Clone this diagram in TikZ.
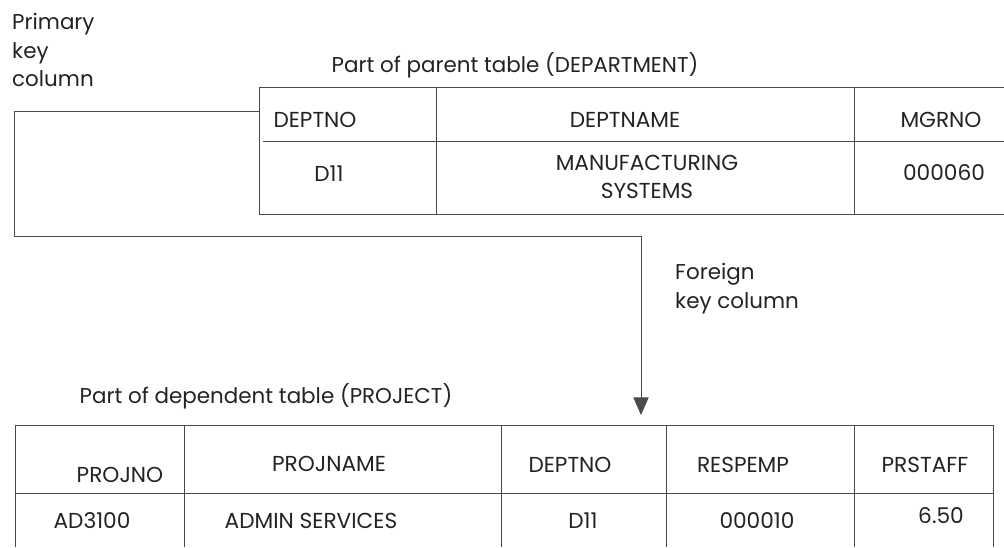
\documentclass[tikz,border=0pt]{standalone}
\usepackage{fontspec}
\setmainfont{Poppins}
\usepackage{tikz}
\usetikzlibrary{arrows.meta}
\definecolor{TxtCol}{RGB}{35,35,35}
\definecolor{LnCol} {RGB}{75,75,75}
\tikzset{
  nd_cell/.style={
    anchor=base, inner sep=0pt, text=TxtCol,
    font=\fontsize{18.5}{24}\selectfont},
  nd_lbl/.style={
    inner sep=0pt, text=TxtCol, align=left,
    font=\fontsize{18.3}{24.3}\selectfont},
  ln_rule/.style={draw=LnCol, line width=0.8pt},
  arr/.style={-{Triangle[length=15pt,width=13pt]}, draw=LnCol, line width=0.8pt},
}

\begin{document}
\begin{tikzpicture}[x=0.03cm,y=-0.03cm]

\useasboundingbox (0,0) rectangle (1004,547);

%% labels
\node[nd_lbl,anchor=north west] at (12,13) (Lpk){Primary\\key\\column};
\node[nd_lbl,anchor=base] at (515,72)  (Lpar){Part of parent table (DEPARTMENT)};
\node[nd_lbl,anchor=base] at (266,403) (Ldep){Part of dependent table (PROJECT)};
\node[nd_lbl,anchor=north west] at (675,263) (Lfk){Foreign\\key column};

%% parent table (DEPARTMENT)
\draw[ln_rule] (1004,87) -- (259,87) -- (259,214) -- (1004,214);
\draw[ln_rule] (263,141) -- (1004,141);
\foreach \x in {436,854}
  {\draw[ln_rule] (\x,87) -- (\x,214);}

\node[nd_cell] at (315,127) (pDeptno){DEPTNO};
\node[nd_cell] at (625,127) (pDeptname){DEPTNAME};
\node[nd_cell] at (941,127) (pMgrno){MGRNO};
\node[nd_cell] at (329,181) (pD11){D11};
\node[nd_cell,align=center,anchor=center] at (647,177) (pMfg){MANUFACTURING\\SYSTEMS};
\node[nd_cell] at (944,180) (pMgr){000060};

%% dependent table (PROJECT)
\draw[ln_rule] (15,547) -- (15,425) -- (993,425) -- (993,547);
\draw[ln_rule] (15,493) -- (993,493);
\foreach \x in {184,501,666,854}
  {\draw[ln_rule] (\x,425) -- (\x,547);}

\node[nd_cell] at (120,482) (dProjno){PROJNO};
\node[nd_cell] at (329,471) (dProjname){PROJNAME};
\node[nd_cell] at (570,472) (dDeptno){DEPTNO};
\node[nd_cell] at (743,472) (dRespemp){RESPEMP};
\node[nd_cell] at (925,472) (dPrstaff){PRSTAFF};
\node[nd_cell] at (92,528)  (dAd){AD3100};
\node[nd_cell] at (311,528) (dAdmin){ADMIN SERVICES};
\node[nd_cell] at (583,528) (dD11){D11};
\node[nd_cell] at (757,528) (dResp){000010};
\node[nd_cell] at (941,523) (dStaff){6.50};

%% primary key -> foreign key
\coordinate (pk) at (259,111);
\coordinate (fk) at (641,415);
\draw[arr] (pk) -| (14,236) -| (fk);

\end{tikzpicture}
\end{document}
